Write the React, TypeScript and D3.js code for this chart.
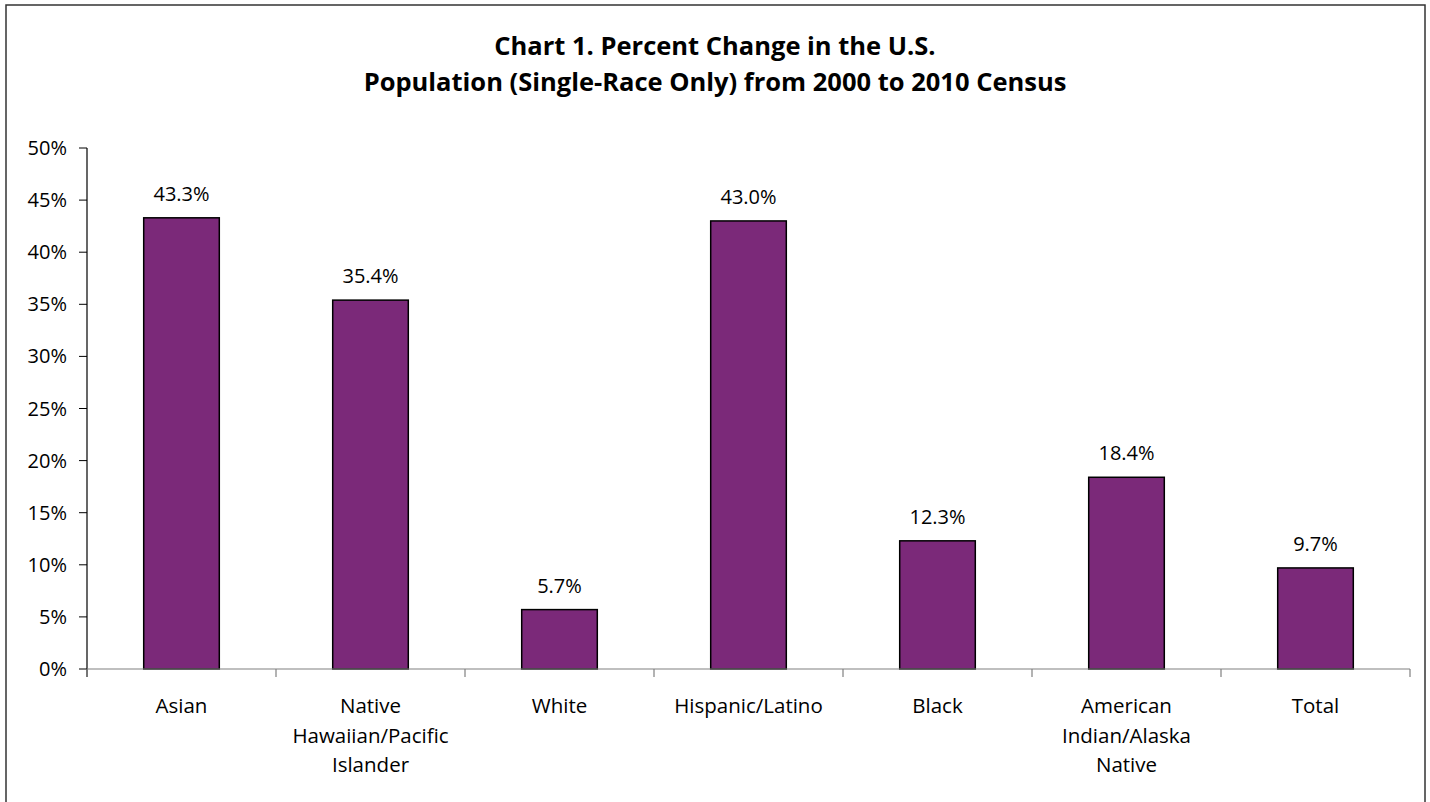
import React, { useEffect, useRef } from "react";
import * as d3 from "d3";

const titleLines = [
  "Chart 1. Percent Change in the U.S.",
  "Population (Single-Race Only) from 2000 to 2010 Census",
];
const categories = [
  "Asian",
  "Native Hawaiian/Pacific Islander",
  "White",
  "Hispanic/Latino",
  "Black",
  "American Indian/Alaska Native",
  "Total",
];
const values = [43.3, 35.4, 5.7, 43.0, 12.3, 18.4, 9.7];
const yTicks = [0, 5, 10, 15, 20, 25, 30, 35, 40, 45, 50];

const W = 1430;
const H = 802;
const FONT = "'Open Sans', 'Noto Sans', sans-serif";

export default function App() {
  const ref = useRef<SVGSVGElement>(null);

  useEffect(() => {
    const svg = d3.select(ref.current);
    svg.selectAll("*").remove();

    const left = 87;
    const right = 1410;
    const top = 148;
    const bottom = 669;

    // frame
    svg
      .append("rect")
      .attr("x", 6)
      .attr("y", 5)
      .attr("width", 1419)
      .attr("height", 820)
      .attr("fill", "white")
      .attr("stroke", "#333")
      .attr("stroke-width", 1.5);

    // title
    const title = svg
      .append("text")
      .attr("font-family", FONT)
      .attr("font-weight", 700)
      .attr("font-size", 25.5)
      .attr("text-anchor", "middle")
      .attr("fill", "#000");
    titleLines.forEach((t, i) => {
      title
        .append("tspan")
        .attr("x", 715)
        .attr("y", 55 + i * 36)
        .text(t);
    });

    const y = d3.scaleLinear().domain([0, 50]).range([bottom, top]);
    const x = d3
      .scaleBand<string>()
      .domain(categories)
      .range([left, right])
      .paddingInner(0.6)
      .paddingOuter(0.3);
    const xCat = d3.scaleBand<string>().domain(categories).range([left, right]).padding(0);

    // y axis
    const ya = svg.append("g");
    ya.append("line")
      .attr("x1", left)
      .attr("x2", left)
      .attr("y1", top)
      .attr("y2", bottom + 8)
      .attr("stroke", "#000")
      .attr("stroke-width", 1.2);
    yTicks.forEach((t) => {
      ya.append("line")
        .attr("x1", left - 8)
        .attr("x2", left)
        .attr("y1", y(t))
        .attr("y2", y(t))
        .attr("stroke", "#000")
        .attr("stroke-width", 1);
      ya.append("text")
        .attr("x", 67)
        .attr("y", y(t))
        .attr("dy", "0.35em")
        .attr("text-anchor", "end")
        .attr("font-family", FONT)
        .attr("font-size", 20)
        .attr("fill", "#000")
        .text(`${t}%`);
    });

    // bars
    const data = categories.map((c, i) => ({ c, v: values[i] }));
    svg
      .append("g")
      .selectAll("rect")
      .data(data)
      .join("rect")
      .attr("x", (d) => x(d.c)!)
      .attr("y", (d) => y(d.v))
      .attr("width", x.bandwidth())
      .attr("height", (d) => bottom - y(d.v))
      .attr("fill", "#7b2979")
      .attr("stroke", "#000")
      .attr("stroke-width", 1.5);

    // x axis
    const xa = svg.append("g");
    xa.append("line")
      .attr("x1", left)
      .attr("x2", right)
      .attr("y1", bottom)
      .attr("y2", bottom)
      .attr("stroke", "#808080")
      .attr("stroke-width", 1.2);
    const bounds = categories.map((c) => xCat(c)!).concat([right]);
    bounds.forEach((b) => {
      xa.append("line")
        .attr("x1", b)
        .attr("x2", b)
        .attr("y1", bottom)
        .attr("y2", bottom + 8)
        .attr("stroke", "#808080")
        .attr("stroke-width", 1.2);
    });

    // value labels
    svg
      .append("g")
      .selectAll("text")
      .data(data)
      .join("text")
      .attr("x", (d) => x(d.c)! + x.bandwidth() / 2)
      .attr("y", (d) => y(d.v) - 17)
      .attr("text-anchor", "middle")
      .attr("font-family", FONT)
      .attr("font-size", 20)
      .attr("fill", "#000")
      .text((d) => `${d.v.toFixed(1)}%`);

    // category labels with wrapping
    const maxW = 175;
    const cg = svg.append("g");
    categories.forEach((c) => {
      const t = cg
        .append("text")
        .attr("text-anchor", "middle")
        .attr("font-family", FONT)
        .attr("font-size", 20.5)
        .attr("fill", "#000");
      const cx = xCat(c)! + xCat.bandwidth() / 2;
      const words = c.split(" ");
      const lines: string[] = [];
      let cur: string[] = [];
      const probe = t.append("tspan");
      words.forEach((w) => {
        const test = cur.concat([w]).join(" ");
        probe.text(test);
        const len = (probe.node() as SVGTextContentElement).getComputedTextLength();
        if (len > maxW && cur.length) {
          lines.push(cur.join(" "));
          cur = [w];
        } else {
          cur.push(w);
        }
      });
      if (cur.length) lines.push(cur.join(" "));
      probe.remove();
      lines.forEach((l, i) => {
        t.append("tspan")
          .attr("x", cx)
          .attr("y", 713 + i * 29.5)
          .text(l);
      });
    });
  }, []);

  return (
    <svg
      ref={ref}
      width={W}
      height={H}
      style={{ position: "fixed", left: 0, top: 0, background: "white" }}
    />
  );
}
